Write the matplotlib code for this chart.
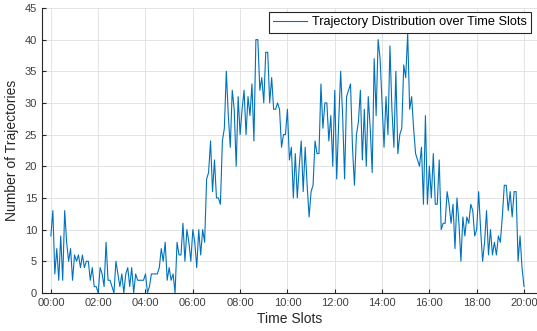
import matplotlib
matplotlib.use('Agg')
import matplotlib.pyplot as plt
import numpy as np

# Number of trajectories per 5-minute slot, 00:00 -> 20:00
counts_00_05 = [9, 13, 3, 7, 2, 9, 2, 13, 8, 5, 7, 2,
                6, 5, 6, 4, 6, 4, 5, 5, 2, 4, 1, 1,
                0, 4, 3, 1, 8, 2, 2, 1, 0, 5, 3, 1,
                3, 0, 3, 4, 1, 4, 0, 3, 2, 2, 2, 2,
                3, 0, 1, 3, 3, 3, 3, 4, 7, 5, 8, 2]
counts_05_10 = [4, 2, 3, 0, 8, 6, 6, 11, 5, 10, 8, 5,
                10, 8, 4, 10, 6, 10, 8, 18, 19, 24, 16, 21,
                15, 15, 14, 24, 26, 35, 28, 23, 32, 29, 20, 31,
                25, 29, 32, 25, 31, 28, 33, 24, 40, 40, 32, 34,
                30, 38, 38, 30, 34, 29, 29, 30, 29, 23, 25, 25]
counts_10_15 = [29, 21, 23, 15, 22, 15, 20, 24, 16, 23, 17, 12,
                16, 17, 24, 22, 22, 33, 26, 30, 30, 24, 28, 20,
                32, 18, 27, 35, 28, 18, 31, 32, 33, 23, 17, 25,
                27, 32, 21, 29, 20, 31, 26, 19, 37, 28, 40, 37,
                30, 23, 31, 25, 39, 29, 23, 35, 22, 25, 26, 36]
counts_15_20 = [34, 41, 29, 31, 26, 22, 21, 20, 23, 14, 28, 14,
                20, 15, 22, 14, 14, 21, 10, 11, 11, 16, 14, 11,
                14, 7, 15, 11, 5, 12, 9, 12, 11, 14, 13, 9,
                10, 16, 10, 5, 8, 13, 6, 10, 6, 8, 6, 9,
                8, 12, 17, 17, 13, 16, 12, 16, 16, 5, 9, 4, 1]
counts = counts_00_05 + counts_05_10 + counts_10_15 + counts_15_20
hours = np.arange(len(counts)) / 12.0

tick_hours = list(range(0, 21, 2))
tick_labels = ['%02d:00' % h for h in tick_hours]

plt.rcParams['font.family'] = ['Liberation Sans', 'DejaVu Sans']

fig = plt.figure(figsize=(5.37, 3.31), dpi=100)
ax = fig.add_axes([0.078, 0.115, 0.922, 0.861])

ax.plot(hours, counts, color='#0072BD', linewidth=0.8,
        label='Trajectory Distribution over Time Slots')

ax.set_xlim(-0.38, 20.55)
ax.set_ylim(0, 45)
ax.set_xticks(tick_hours)
ax.set_xticklabels(tick_labels)
ax.set_yticks(range(0, 46, 5))

ax.grid(True, color='#dedede', linewidth=0.6)
ax.set_axisbelow(True)
for side in ['top', 'right']:
    ax.spines[side].set_visible(False)
for side in ['left', 'bottom']:
    ax.spines[side].set_color('#262626')
    ax.spines[side].set_linewidth(0.8)
ax.tick_params(direction='in', length=3, width=0.8, colors='#262626',
               labelsize=8, labelcolor='#404040')

ax.set_xlabel('Time Slots', fontsize=10, color='#262626', labelpad=3)
ax.set_ylabel('Number of Trajectories', fontsize=10, color='#262626', labelpad=4)

leg = ax.legend(loc='upper right', bbox_to_anchor=(0.988, 0.987),
                borderaxespad=0, fancybox=False, framealpha=1,
                edgecolor='#262626', fontsize=9.2, handlelength=2.6,
                borderpad=0.35, handletextpad=0.4)
leg.get_frame().set_linewidth(0.8)

fig.savefig('out.png', dpi=100)
